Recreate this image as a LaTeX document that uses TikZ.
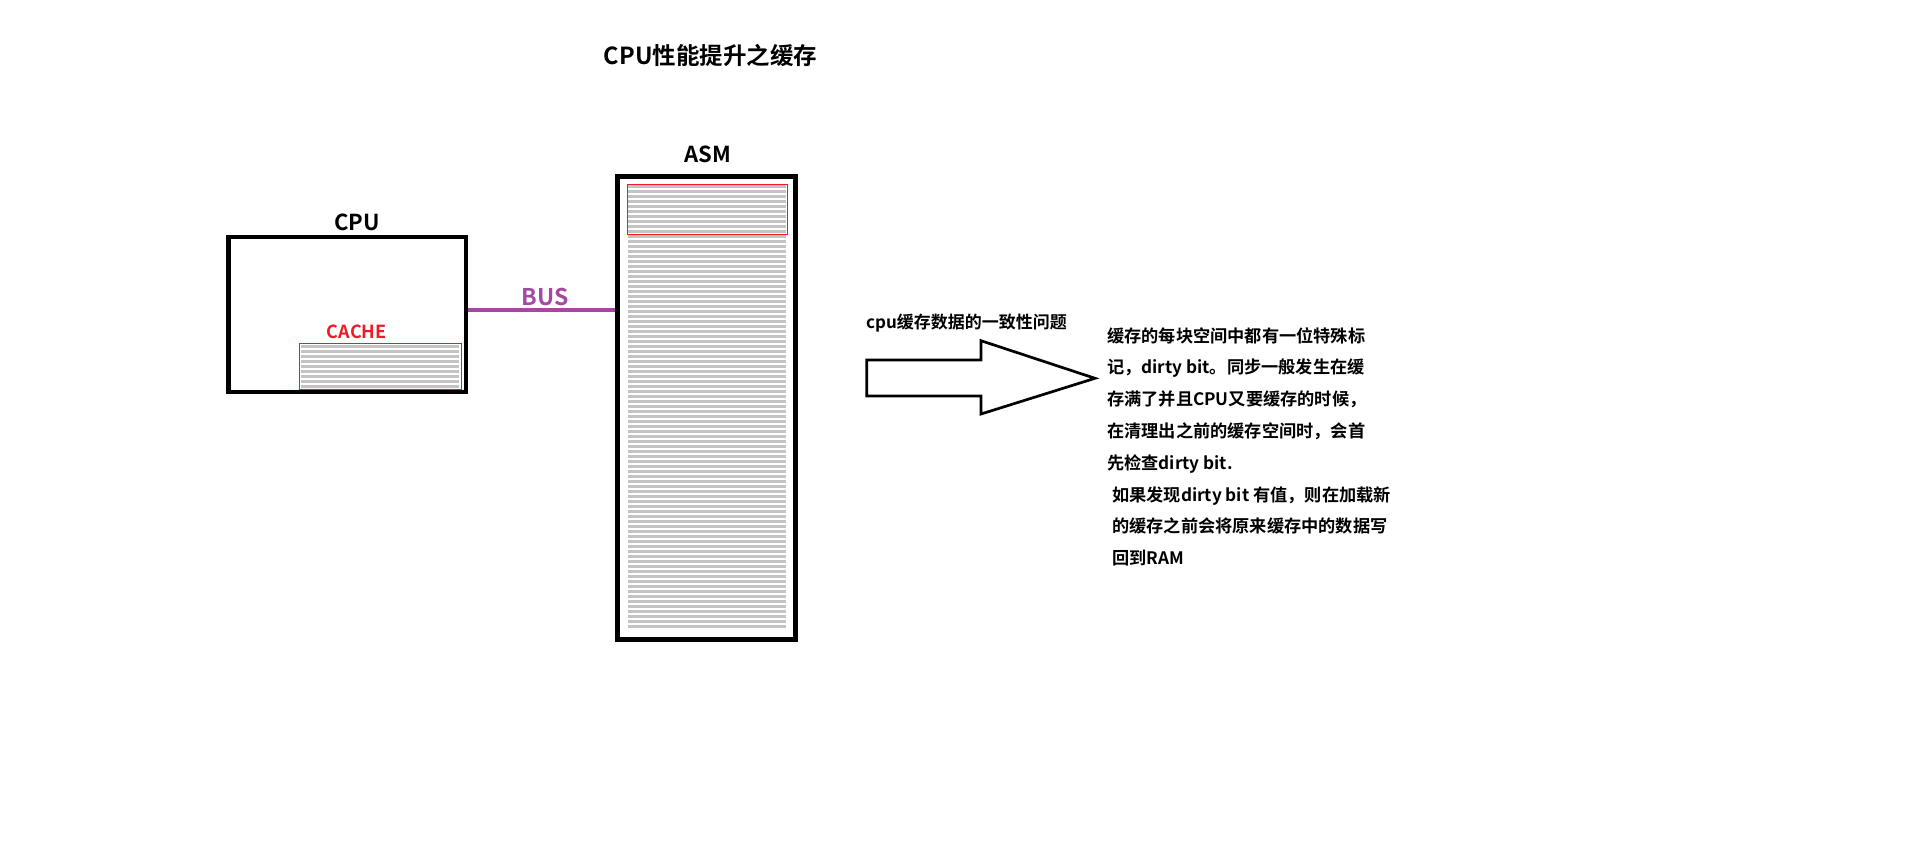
\documentclass[tikz,border=0pt]{standalone}
\usepackage{fontspec}
\setmainfont{Noto Sans CJK SC}[BoldFont={* Bold}]
\usetikzlibrary{positioning}
\definecolor{cachered}{HTML}{ED1C24}
\definecolor{buspurple}{HTML}{A349A4}
\definecolor{rowgray}{HTML}{C3C3C3}

\begin{document}
\begin{tikzpicture}[
  x=1pt, y=-1pt,
  box/.style={rectangle, draw=black, inner sep=0pt},
  cachebox/.style={rectangle, draw=cachered, line width=1.2pt, inner sep=0pt},
  row/.style={rowgray, line width=2.7pt},
  bus/.style={buspurple, line width=3.5pt},
  lbl/.style={font=\fontsize{22}{26}\selectfont\bfseries, inner sep=0pt},
  para/.style={font=\fontsize{17.2}{21}\selectfont\bfseries, anchor=base west, inner sep=0pt},
  bigarrow/.style={draw=black, line width=2.7pt, line join=miter, fill=white},
]
\useasboundingbox[fill=white] (0,0) rectangle (1909,857);

\node[lbl, font=\fontsize{23.5}{28}\selectfont\bfseries] (title) at (710.5,55) {CPU性能提升之缓存};

\node[box, line width=4.5pt, minimum width=237.5, minimum height=155] (cpu) at (347.25,314.5) {};
\node[lbl] (cpulbl) at (357,222) {CPU};
\node[cachebox, minimum width=162.4, minimum height=46] (cache) at (380.5,366.3) {};
\node[lbl, font=\fontsize{18}{22}\selectfont\bfseries, text=cachered] (cachelbl) at (356.7,331.7) {CACHE};
\foreach \k in {0,...,8}
  \draw[row] (301,346.5+5*\k) -- (459,346.5+5*\k);

\node[box, line width=5pt, minimum width=177.5, minimum height=463] (asm) at (706.25,407.5) {};
\node[lbl] (asmlbl) at (708,154) {ASM};
\foreach \k in {0,...,88}
  \draw[row] (628,186.5+5*\k) -- (786,186.5+5*\k);
\node[cachebox, minimum width=160.4, minimum height=50] (asmcache) at (707.5,209.3) {};

\draw[bus] ([yshift=4.5pt]cpu.east) -- ([yshift=4.5pt]cpu.east -| asm.west);
\node[lbl, font=\fontsize{23}{27}\selectfont\bfseries, text=buspurple] (buslbl) at (545,297) {BUS};

\node[para, font=\fontsize{17}{21}\selectfont\bfseries, anchor=west] (question) at (866,323) {cpu缓存数据的一致性问题};
\draw[bigarrow] (866.7,360) -- (981,360) -- (981,340.7) -- (1095,378.3) -- (981,414) -- (981,396) -- (866.7,396) -- cycle;

\foreach \txt [count=\i] in {
  {缓存的每块空间中都有一位特殊标},
  {记，dirty bit。同步一般发生在缓},
  {存满了并且CPU又要缓存的时候，},
  {在清理出之前的缓存空间时，会首},
  {先检查dirty bit.},
  {\hspace*{5pt}如果发现dirty bit 有值，则在加载新},
  {\hspace*{5pt}的缓存之前会将原来缓存中的数据写},
  {\hspace*{5pt}回到RAM}}
  \node[para] (line\i) at (1107,342+31.8*\i-31.8) {\txt};

\end{tikzpicture}
\end{document}
